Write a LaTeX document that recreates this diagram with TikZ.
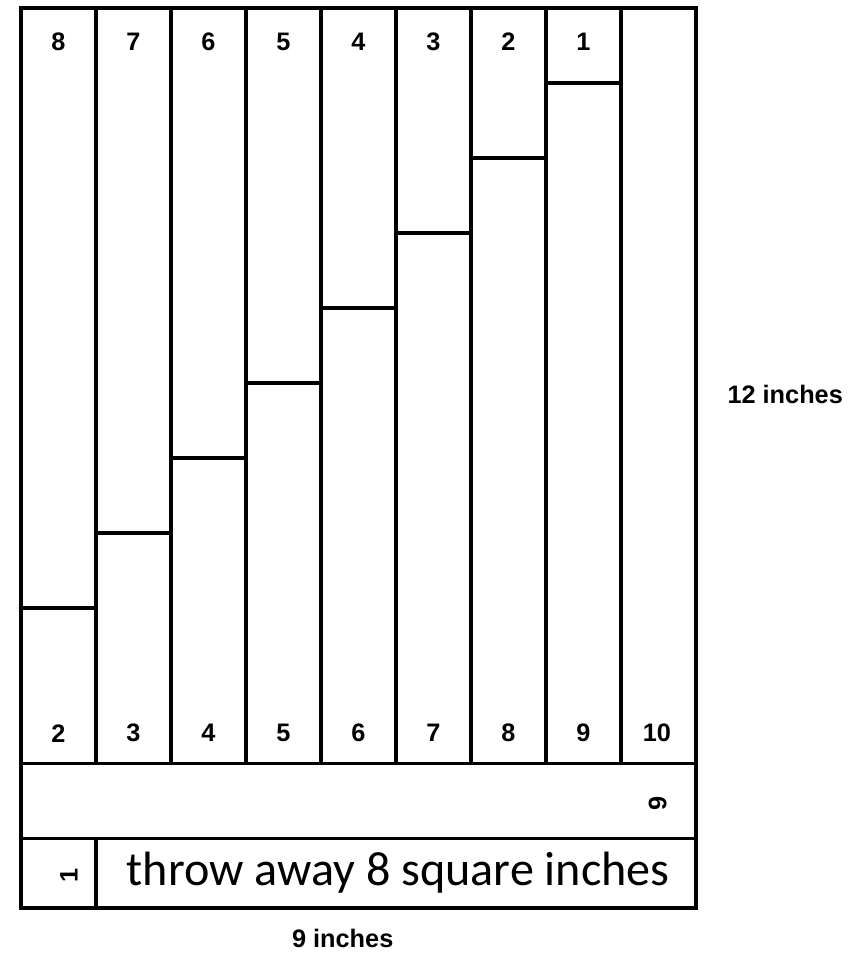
\documentclass[tikz,border=0pt]{standalone}
\usepackage{fontspec}
\setsansfont{Liberation Sans}
\newfontfamily\carlito{Carlito}

\begin{document}
\begin{tikzpicture}[
    x=0.75cm, y=0.75cm,
    piece/.style={draw=black, line width=0.9pt},
    num/.style={font=\sffamily\bfseries\fontsize{7.2}{8}\selectfont,
                inner sep=0pt},
    dimlabel/.style={font=\sffamily\bfseries\fontsize{7.2}{8}\selectfont,
                     inner sep=0pt},
    note/.style={font=\carlito\fontsize{13.7}{15}\selectfont, inner sep=0pt}
]
\useasboundingbox (-0.28,-0.627) rectangle (11.173,12.107);

% the three bands of the sheet
\draw[piece] (0,1.93) rectangle (9,12);
\draw[piece] (0,0.93) rectangle (9,1.93);
\draw[piece] (0,0) rectangle (9,0.93);
\draw[piece] (1,0) -- (1,0.93);

% column boundaries
\draw[piece] (1,1.93) -- (1,12);
\draw[piece] (2,1.93) -- (2,12);
\draw[piece] (3,1.93) -- (3,12);
\draw[piece] (4,1.93) -- (4,12);
\draw[piece] (5,1.93) -- (5,12);
\draw[piece] (6,1.93) -- (6,12);
\draw[piece] (7,1.93) -- (7,12);
\draw[piece] (8,1.93) -- (8,12);

% cuts inside the columns
\draw[piece] (0,4) -- (1,4);
\draw[piece] (1,5) -- (2,5);
\draw[piece] (2,6) -- (3,6);
\draw[piece] (3,7) -- (4,7);
\draw[piece] (4,8) -- (5,8);
\draw[piece] (5,9) -- (6,9);
\draw[piece] (6,10) -- (7,10);
\draw[piece] (7,11) -- (8,11);

% upper pieces
\node[num] (top8) at (0.5,11.55) {8};
\node[num] (top7) at (1.5,11.55) {7};
\node[num] (top6) at (2.5,11.55) {6};
\node[num] (top5) at (3.5,11.55) {5};
\node[num] (top4) at (4.5,11.55) {4};
\node[num] (top3) at (5.5,11.55) {3};
\node[num] (top2) at (6.5,11.55) {2};
\node[num] (top1) at (7.5,11.55) {1};

% lower pieces
\node[num] (low2) at (0.5,2.33) {2};
\node[num] (low3) at (1.5,2.33) {3};
\node[num] (low4) at (2.5,2.33) {4};
\node[num] (low5) at (3.5,2.33) {5};
\node[num] (low6) at (4.5,2.33) {6};
\node[num] (low7) at (5.5,2.33) {7};
\node[num] (low8) at (6.5,2.33) {8};
\node[num] (low9) at (7.5,2.33) {9};
\node[num] (low10) at (8.48,2.33) {10};

% strips along the bottom
\node[num, rotate=90] (strip9) at (8.49,1.4) {9};
\node[num, rotate=90] (strip1) at (0.64,0.43) {1};
\node[note] (waste) at (5.03,0.47) {throw away 8 square inches};

% sheet size
\node[dimlabel] (height) at (10.19,6.85) {12 inches};
\node[dimlabel] (width) at (4.29,-0.4) {9 inches};

\end{tikzpicture}
\end{document}
